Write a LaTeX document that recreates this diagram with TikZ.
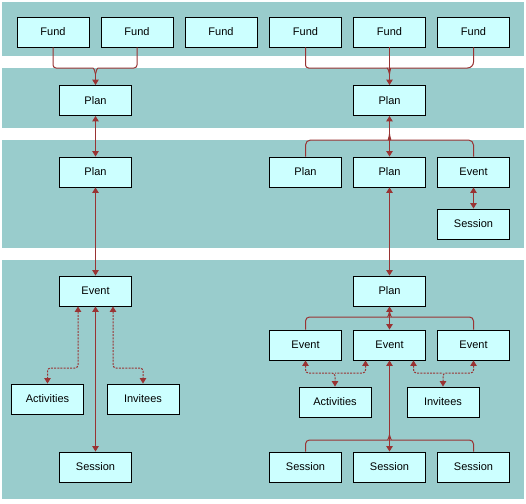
\documentclass[tikz,border=0pt]{standalone}
\usepackage{fontspec}
\setmainfont{Liberation Sans}
\usetikzlibrary{arrows.meta}
\definecolor{band}{HTML}{99CCCC}
\definecolor{boxfill}{HTML}{CCFFFF}
\definecolor{wire}{HTML}{993333}
\begin{document}
\begin{tikzpicture}[x=1pt,y=-1pt,
  >={Triangle[width=6.5pt,length=5.5pt]},
  box/.style={draw=black, line width=0.9pt, fill=boxfill, minimum width=72pt, minimum height=30pt, inner sep=0pt, font=\fontsize{11}{13}\selectfont},
  conn/.style={draw=wire, line width=1pt},
  dotconn/.style={draw=wire, line width=1pt, dash pattern=on 2pt off 1.2pt},
]
\fill[white] (0,0) rectangle (526,503);
\useasboundingbox (0,0) rectangle (526,503);
\fill[band] (2,2) rectangle (524,56);
\fill[band] (2,68) rectangle (524,128);
\fill[band] (2,140) rectangle (524,248);
\fill[band] (2,260) rectangle (524,499);

% row 1
\node[box] (f1) at (53,32) {Fund};
\node[box] (f2) at (137,32) {Fund};
\node[box] (f3) at (221,32) {Fund};
\node[box] (f4) at (305.5,32) {Fund};
\node[box] (f5) at (389.5,32) {Fund};
\node[box] (f6) at (473.5,32) {Fund};
% row 2
\node[box] (pa) at (95.5,100.5) {Plan};
\node[box] (pb) at (389.5,100.5) {Plan};
% row 3
\node[box] (pc) at (95.5,172) {Plan};
\node[box] (pd) at (305.5,172) {Plan};
\node[box] (pe) at (389.5,172) {Plan};
\node[box] (ev1) at (473.5,172) {Event};
\node[box] (s1) at (473.5,224) {Session};
% row 4 left
\node[box] (ev2) at (95.5,291) {Event};
\node[box] (act1) at (47.5,399) {Activities};
\node[box] (inv1) at (143,399) {Invitees};
\node[box] (s2) at (95.5,467) {Session};
% row 4 right
\node[box] (pf) at (389.5,291) {Plan};
\node[box] (ev3) at (305.5,345) {Event};
\node[box] (ev4) at (389.5,345) {Event};
\node[box] (ev5) at (473.5,345) {Event};
\node[box] (act2) at (335,402) {Activities};
\node[box] (inv2) at (443,402) {Invitees};
\node[box] (s3) at (305.5,467) {Session};
\node[box] (s4) at (389.5,467) {Session};
\node[box] (s5) at (473.5,467) {Session};

% left fund fork
\coordinate (jA) at (95.5,74);
\draw[conn,rounded corners=3pt] (f1.south) |- (90,68) to[out=0,in=90] (jA);
\draw[conn,rounded corners=3pt] (f2.south) |- (101,68) to[out=180,in=90] (jA);
\draw[conn,->] (jA) -- (pa.north);
% right fund fork
\coordinate (jB) at (389.5,74);
\draw[conn,rounded corners=3pt] (f4.south) |- (384,68) to[out=0,in=90] (jB);
\draw[conn,rounded corners=6pt] (f6.south) |- (395,68) to[out=180,in=90] (jB);
\draw[conn,->] (f5.south) -- (pb.north);

% left column
\draw[conn,<->] (pa.south) -- (pc.north);
\draw[conn,<->] (pc.south) -- (ev2.north);
\draw[conn,<->] (ev2.south) -- (s2.north);
\draw[dotconn,<->,rounded corners=3pt] ([xshift=-17.5pt]ev2.south) |- (47.5,368) -- (act1.north);
\draw[dotconn,<->,rounded corners=3pt] ([xshift=17.5pt]ev2.south) |- (143,368) -- (inv1.north);

% right plan fork into row 3
\coordinate (jC) at (389.5,134);
\draw[conn,<->] (pb.south) -- (pe.north);
\draw[conn,rounded corners=5pt] (jC) to[out=-90,in=0] (384,140) -| (pd.north);
\draw[conn,rounded corners=5pt] (jC) to[out=-90,in=180] (395,140) -| (ev1.north);
\draw[conn,<->] (ev1.south) -- (s1.north);
\draw[conn,<->] (pe.south) -- (pf.north);

% plan to events
\coordinate (jD) at (389.5,312);
\draw[conn,<->] (pf.south) -- (ev4.north);
\draw[conn,rounded corners=4pt] (jD) to[out=-90,in=0] (384,317) -| (ev3.north);
\draw[conn,rounded corners=4pt] (jD) to[out=-90,in=180] (395,317) -| (ev5.north);

% events to activities / invitees
\draw[dotconn,<->,rounded corners=3pt] (ev3.south) |- (335,373) -- (act2.north);
\draw[dotconn,<-,rounded corners=3pt] ([xshift=-24pt]ev4.south) |- (335,373);
\draw[dotconn,<->,rounded corners=3pt] (ev5.south) |- (443,373) -- (inv2.north);
\draw[dotconn,<-,rounded corners=3pt] ([xshift=24pt]ev4.south) |- (443,373);

% event to sessions
\coordinate (jF) at (389.5,435);
\draw[conn,<->] (ev4.south) -- (s4.north);
\draw[conn,rounded corners=4pt] (jF) to[out=-90,in=0] (384,440) -| (s3.north);
\draw[conn,rounded corners=4pt] (jF) to[out=-90,in=180] (395,440) -| (s5.north);
\end{tikzpicture}
\end{document}
